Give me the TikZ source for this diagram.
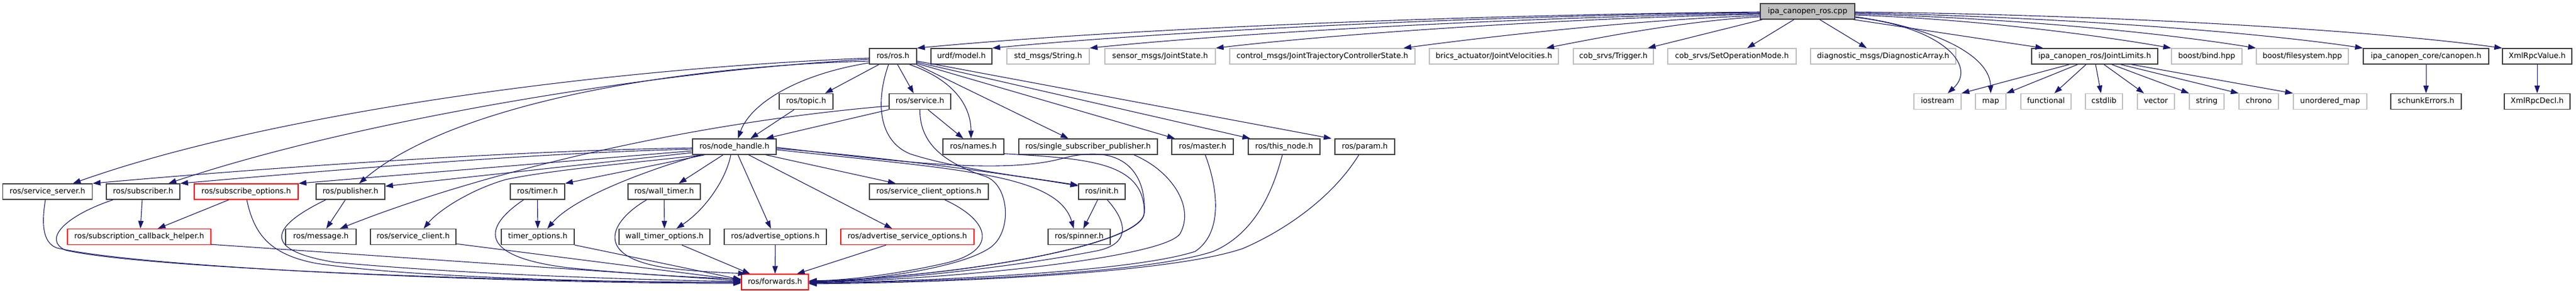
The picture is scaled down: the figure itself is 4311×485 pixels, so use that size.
\documentclass[tikz,border=0pt]{standalone}
\usepackage{fontspec}
\setmainfont{DejaVu Sans}
\usetikzlibrary{arrows.meta,calc}
\definecolor{edgec}{HTML}{191970}
\definecolor{grayb}{HTML}{BFBFBF}
\definecolor{blkb}{HTML}{404040}
\definecolor{redb}{HTML}{FF0000}
\definecolor{cppfill}{HTML}{BFBFBF}
\begin{document}
\begin{tikzpicture}[x=1pt,y=-1pt,
  nb/.style={draw, line width=1.4pt, minimum height=26pt, inner sep=0pt,
    text height=9.5pt, text depth=2.9pt, font=\fontsize{12.7pt}{15pt}\selectfont, anchor=center},
  blk/.style={nb, draw=blkb},
  gry/.style={nb, draw=grayb},
  rd/.style={nb, draw=redb},
  w/.style={minimum width=#1},
  edg/.style={draw=edgec, line width=1.1pt, -{Triangle[length=13pt,width=9pt]}},
]
\useasboundingbox (0,0) rectangle (4311,485);
% row 0
\node[blk, fill=cppfill, w=158pt] (cpp) at (3025,19) {ipa\_canopen\_ros.cpp};
% row 1
\node[blk, w=79pt]  (rosh) at (1494.5,94) {ros/ros.h};
\node[blk, w=102pt] (urdf) at (1609,94) {urdf/model.h};
\node[gry, w=138pt] (stdstr) at (1754,94) {std\_msgs/String.h};
\node[gry, w=185pt] (jointstate) at (1941.5,94) {sensor\_msgs/JointState.h};
\node[gry, w=310pt] (control) at (2213,94) {control\_msgs/JointTrajectoryControllerState.h};
\node[gry, w=216pt] (brics) at (2500,94) {brics\_actuator/JointVelocities.h};
\node[gry, w=134pt] (trigger) at (2700,94) {cob\_srvs/Trigger.h};
\node[gry, w=215pt] (setop) at (2898.5,94) {cob\_srvs/SetOperationMode.h};
\node[gry, w=243pt] (diag) at (3151.5,94) {diagnostic\_msgs/DiagnosticArray.h};
\node[blk, w=211pt] (jl) at (3505.5,94) {ipa\_canopen\_ros/JointLimits.h};
\node[gry, w=118pt] (bind) at (3693,94) {boost/bind.hpp};
\node[gry, w=154pt] (fs) at (3853,94) {boost/filesystem.hpp};
\node[blk, w=210pt] (canopen) at (4060,94) {ipa\_canopen\_core/canopen.h};
\node[blk, w=116pt] (xrv) at (4246,94) {XmlRpcValue.h};
% row 2
\node[blk, w=90pt]  (topic) at (1349,169.5) {ros/topic.h};
\node[blk, w=103pt] (service) at (1539.5,169.5) {ros/service.h};
\node[gry, w=79pt]  (iostream) at (3242.5,169.5) {iostream};
\node[gry, w=51pt]  (map) at (3331.5,169.5) {map};
\node[gry, w=84pt]  (functional) at (3424,169.5) {functional};
\node[gry, w=62pt]  (cstdlib) at (3521,169.5) {cstdlib};
\node[gry, w=62pt]  (vector) at (3608,169.5) {vector};
\node[gry, w=58pt]  (string) at (3693,169.5) {string};
\node[gry, w=66pt]  (chrono) at (3780,169.5) {chrono};
\node[gry, w=123pt] (umap) at (3899.5,169.5) {unordered\_map};
\node[blk, w=118pt] (schunk) at (4060,169.5) {schunkErrors.h};
\node[blk, w=110pt] (xrd) at (4246,169.5) {XmlRpcDecl.h};
% row 3
\node[blk, w=140pt] (nh) at (1229,245) {ros/node\_handle.h};
\node[blk, w=102pt] (names) at (1629,245) {ros/names.h};
\node[blk, w=232pt] (ssp) at (1821,245) {ros/single\_subscriber\_publisher.h};
\node[blk, w=103pt] (master) at (2012.5,245) {ros/master.h};
\node[blk, w=120pt] (thisnode) at (2149,245) {ros/this\_node.h};
\node[blk, w=100pt] (param) at (2284,245) {ros/param.h};
% row 4
\node[blk, w=150pt] (ss) at (79.5,320) {ros/service\_server.h};
\node[blk, w=123pt] (sub) at (239.5,320) {ros/subscriber.h};
\node[rd,  w=174pt] (subopts) at (412,320) {ros/subscribe\_options.h};
\node[blk, w=115pt] (pub) at (586.5,320) {ros/publisher.h};
\node[blk, w=91pt]  (timer) at (899.5,320) {ros/timer.h};
\node[blk, w=121pt] (wtimer) at (1111.5,320) {ros/wall\_timer.h};
\node[blk, w=199pt] (scopts) at (1554.5,320) {ros/service\_client\_options.h};
\node[blk, w=78pt]  (init) at (1844,320) {ros/init.h};
% row 5
\node[rd,  w=240pt] (subcb) at (233,395.5) {ros/subscription\_callback\_helper.h};
\node[blk, w=118pt] (msg) at (537,395.5) {ros/message.h};
\node[blk, w=143pt] (sclient) at (691.5,395.5) {ros/service\_client.h};
\node[blk, w=122pt] (topts) at (900,395.5) {timer\_options.h};
\node[blk, w=152pt] (wtopts) at (1112,395.5) {wall\_timer\_options.h};
\node[blk, w=171pt] (advopts) at (1297.5,395.5) {ros/advertise\_options.h};
\node[rd,  w=223pt] (advsrv) at (1518.5,395.5) {ros/advertise\_service\_options.h};
\node[blk, w=104pt] (spinner) at (1806,395.5) {ros/spinner.h};
% row 6
\node[rd,  w=112pt] (fwd) at (1297,471) {ros/forwards.h};

% ---- edges from cpp
\draw[edg] ($(cpp.west)+(0,1)$) .. controls (2500,24) and (1900,46) .. (rosh.north east);
\draw[edg] ($(cpp.west)+(0,2)$) .. controls (2550,25) and (2000,48) .. (urdf.north east);
\draw[edg] ($(cpp.west)+(0,3.5)$) .. controls (2600,27) and (2100,52) .. (stdstr.north east);
\draw[edg] ($(cpp.west)+(0,5)$) .. controls (2650,29) and (2250,55) .. (jointstate.north east);
\draw[edg] ($(cpp.west)+(0,7)$) .. controls (2750,32) and (2500,60) .. ($(control.north east)+(-20,0)$);
\draw[edg] ($(cpp.west)+(0,9)$) .. controls (2820,35) and (2680,62) .. ($(brics.north east)+(-21,0)$);
\draw[edg] ($(cpp.south west)+(4,0)$) -- ($(trigger.north east)+(-10,0)$);
\draw[edg] ($(cpp.south west)+(57,0)$) -- ($(setop.north)+(25.5,0)$);
\draw[edg] ($(cpp.south west)+(100,0)$) -- ($(diag.north)+(-27.5,0)$);
\draw[edg] ($(cpp.south east)+(-3,0)$) -- ($(jl.north west)+(20,0)$);
\draw[edg] ($(cpp.east)+(0,10)$) .. controls (3250,45) and (3310,110) .. ($(iostream.north)+(17,0)$);
\draw[edg] ($(cpp.east)+(0,9)$) .. controls (3230,45) and (3330,90) .. (map.north);
\draw[edg] ($(cpp.east)+(0,6)$) .. controls (3300,32) and (3500,57) .. (bind.north west);
\draw[edg] ($(cpp.east)+(0,4)$) .. controls (3350,30) and (3600,52) .. (fs.north west);
\draw[edg] ($(cpp.east)+(0,2.5)$) .. controls (3400,27) and (3750,50) .. (canopen.north west);
\draw[edg] ($(cpp.east)+(0,1)$) .. controls (3500,24) and (3950,48) .. (xrv.north west);

% ---- JointLimits, canopen, XmlRpcValue
\draw[edg] ($(jl.south)+(-42.5,0)$) -- (iostream.north east);
\draw[edg] ($(jl.south)+(-28.5,0)$) -- (map.north east);
\draw[edg] ($(jl.south)+(-14.5,0)$) -- ($(functional.north)+(14,0)$);
\draw[edg] ($(jl.south)+(1.5,0)$) -- ($(cstdlib.north)+(-5,0)$);
\draw[edg] ($(jl.south)+(15.5,0)$) -- ($(vector.north)+(-20,0)$);
\draw[edg] ($(jl.south)+(28.5,0)$) -- (string.north west);
\draw[edg] ($(jl.south)+(43.5,0)$) -- (chrono.north west);
\draw[edg] ($(jl.south)+(61.5,0)$) -- (umap.north west);
\draw[edg] (canopen) -- (schunk);
\draw[edg] (xrv) -- (xrd);

% ---- ros/ros.h
\draw[edg] ($(rosh.west)+(0,3)$) .. controls (1000,115) and (450,190) .. ($(ss.north)+(42.5,0)$);
\draw[edg] ($(rosh.west)+(0,5)$) .. controls (1100,118) and (600,200) .. ($(sub.north)+(42.5,0)$);
\draw[edg] ($(rosh.west)+(0,8)$) .. controls (1100,112) and (750,180) .. ($(pub.north)+(14.5,0)$);
\draw[edg] ($(rosh.south)+(-23.5,0)$) -- ($(topic.north east)+(-14,0)$);
\draw[edg] ($(rosh.west)+(0,11)$) .. controls (1330,125) and (1255,175) .. ($(nh.north)+(6,0)$);
\draw[edg] ($(rosh.south)+(7.5,0)$) -- ($(service.north)+(-10.5,0)$);
\draw[edg] ($(rosh.south)+(27.5,0)$) .. controls (1600,135) and (1625,180) .. ($(names.north)+(-4,0)$);
\draw[edg] ($(rosh.south east)+(-1,0)$) -- ($(ssp.north)+(-33,0)$);
\draw[edg] ($(rosh.east)+(0,12)$) -- ($(master.north west)+(6,0)$);
\draw[edg] ($(rosh.east)+(0,10)$) -- ($(thisnode.north west)+(4,0)$);
\draw[edg] ($(rosh.east)+(0,8)$) -- ($(param.north west)+(-5,0)$);
\draw[edg] ($(rosh.south)+(-7.5,0)$) .. controls (1465,170) and (1470,235) .. (1523,257)
   .. controls (1600,282) and (1720,296) .. ($(init.north west)+(0,3)$);

% ---- ros/node_handle.h
\draw[edg] ($(nh.west)+(0,2)$) .. controls (850,252) and (450,280) .. (ss.north east);
\draw[edg] ($(nh.west)+(0,4)$) .. controls (880,256) and (550,285) .. (sub.north east);
\draw[edg] ($(nh.west)+(0,7)$) -- (subopts.north east);
\draw[edg] ($(nh.west)+(0,10)$) -- ($(pub.east)+(0,-9)$);
\draw[edg] ($(nh.south west)+(18,0)$) .. controls (1060,272) and (920,284) .. (846,300)
   .. controls (790,316) and (735,350) .. ($(sclient.north)+(17.5,0)$);
\draw[edg] ($(nh.south west)+(21,0)$) -- (timer.north east);
\draw[edg] ($(nh.south west)+(14,0)$) .. controls (1080,285) and (960,330) .. ($(topts.north)+(16,0)$);
\draw[edg] ($(nh.south)+(-19,0)$) -- ($(wtimer.north)+(24.5,0)$);
\draw[edg] ($(nh.south)+(-6,0)$) .. controls (1215,300) and (1180,350) .. ($(wtopts.north)+(20,0)$);
\draw[edg] ($(nh.south)+(6,0)$) -- ($(advopts.north)+(-7.5,0)$);
\draw[edg] ($(nh.south)+(24,0)$) -- ($(advsrv.north)+(-25.5,0)$);
\draw[edg] ($(nh.south east)+(-18,0)$) -- ($(scopts.north)+(-55.5,0)$);
\draw[edg] ($(nh.east)+(0,3)$) .. controls (1480,262) and (1680,290) .. ($(init.north west)+(0,4)$);
\draw[edg] ($(nh.east)+(0,5)$) .. controls (1600,283) and (1770,290) .. ($(spinner.north)+(-9,0)$);
\draw[edg] ($(nh.east)+(0,1)$) .. controls (1500,270) and (1680,292) .. (1780,264)
   .. controls (1890,236) and (1918,300) .. (1915,355)
   .. controls (1912,410) and (1600,462) .. ($(fwd.east)+(0,-1)$);

% ---- ros/service.h, ros/topic.h
\draw[edg] (service.south) .. controls (1539,240) and (1580,272) .. (1650,295)
   .. controls (1690,310) and (1695,390) .. (1655,415)
   .. controls (1600,450) and (1450,468) .. ($(fwd.east)+(0,1)$);
\draw[edg] ($(service.south)+(13.5,0)$) -- ($(names.north)+(-17,0)$);
\draw[edg] (service.south west) -- ($(nh.north east)+(-18,0)$);
\draw[edg] ($(service.west)+(0,7.5)$) .. controls (1150,205) and (800,290) .. ($(msg.north)+(32,0)$);
\draw[edg] ($(topic.south)+(-20,0)$) -- ($(nh.north)+(27,0)$);

% ---- row 3 to forwards
\draw[edg] ($(names.south east)+(0,-2)$) .. controls (1820,265) and (1915,270) .. (1915,355)
   .. controls (1915,410) and (1600,462) .. ($(fwd.east)+(0,-1)$);
\draw[edg] ($(ssp.south east)+(-40,0)$) .. controls (1960,285) and (2000,345) .. (1975,390)
   .. controls (1950,430) and (1600,466) .. ($(fwd.east)+(0,1)$);
\draw[edg] ($(master.south)+(4.5,0)$) .. controls (2040,320) and (2045,390) .. (2000,420)
   .. controls (1900,452) and (1600,468) .. ($(fwd.east)+(0,2)$);
\draw[edg] ($(thisnode.south)+(-3,0)$) .. controls (2130,320) and (2100,390) .. (2030,420)
   .. controls (1920,456) and (1600,470) .. ($(fwd.east)+(0,2)$);
\draw[edg] ($(param.south)+(-10,0)$) .. controls (2230,330) and (2150,385) .. (2080,415)
   .. controls (1960,456) and (1600,472) .. ($(fwd.east)+(0,3)$);

% ---- row 4
\draw[edg] ($(init.south)+(9,0)$) .. controls (1890,375) and (1890,410) .. (1830,420)
   .. controls (1700,445) and (1500,468) .. (fwd.east);
\draw[edg] ($(init.south)+(-7,0)$) -- ($(spinner.north)+(7,0)$);
\draw[edg] ($(scopts.south)+(26.5,0)$) .. controls (1660,370) and (1670,420) .. (1580,440)
   .. controls (1500,458) and (1420,468) .. ($(fwd.east)+(0,-2)$);
\draw[edg] (timer) -- (topts);
\draw[edg] ($(timer.south west)+(23,0)$) .. controls (800,385) and (810,430) .. (950,447)
   .. controls (1050,457) and (1150,463) .. ($(fwd.west)+(0,-5)$);
\draw[edg] (wtimer) -- (wtopts);
\draw[edg] ($(wtimer.south west)+(32,0)$) .. controls (1020,370) and (990,430) .. (1120,448)
   .. controls (1180,455) and (1230,456) .. ($(fwd.north west)+(8,0)$);
\draw[edg] ($(pub.south)+(-8.5,0)$) -- ($(msg.north)+(9,0)$);
\draw[edg] ($(pub.south west)+(17,0)$) .. controls (470,370) and (420,415) .. (560,438)
   .. controls (800,460) and (1100,468) .. ($(fwd.west)+(0,-1)$);
\draw[edg] ($(subopts.south)+(1,0)$) .. controls (425,390) and (450,425) .. (530,440)
   .. controls (700,465) and (1050,472) .. (fwd.west);
\draw[edg] ($(subopts.south)+(-29,0)$) -- ($(subcb.north)+(31,0)$);
\draw[edg] ($(sub.south)+(-1.5,0)$) -- ($(subcb.north)+(2,0)$);
\draw[edg] ($(sub.south west)+(12,0)$) .. controls (110,360) and (70,400) .. (110,418)
   .. controls (250,450) and (900,472) .. ($(fwd.west)+(0,1)$);
\draw[edg] ($(ss.south)+(-3.5,0)$) .. controls (70,370) and (70,405) .. (95,414)
   .. controls (250,450) and (900,474) .. ($(fwd.west)+(0,2)$);

% ---- row 5
\draw[edg] ($(subcb.south east)+(0,-1)$) -- ($(fwd.west)+(0,-2)$);
\draw[edg] ($(sclient.south east)+(0,-2)$) -- ($(fwd.west)+(0,-3)$);
\draw[edg] (topts.south east) -- ($(fwd.west)+(0,-4)$);
\draw[edg] ($(wtopts.south)+(29,0)$) -- ($(fwd.north west)+(15,0)$);
\draw[edg] (advopts) -- (fwd);
\draw[edg] ($(advsrv.south)+(-35.5,0)$) -- ($(fwd.north east)+(-20,0)$);
\end{tikzpicture}
\end{document}
